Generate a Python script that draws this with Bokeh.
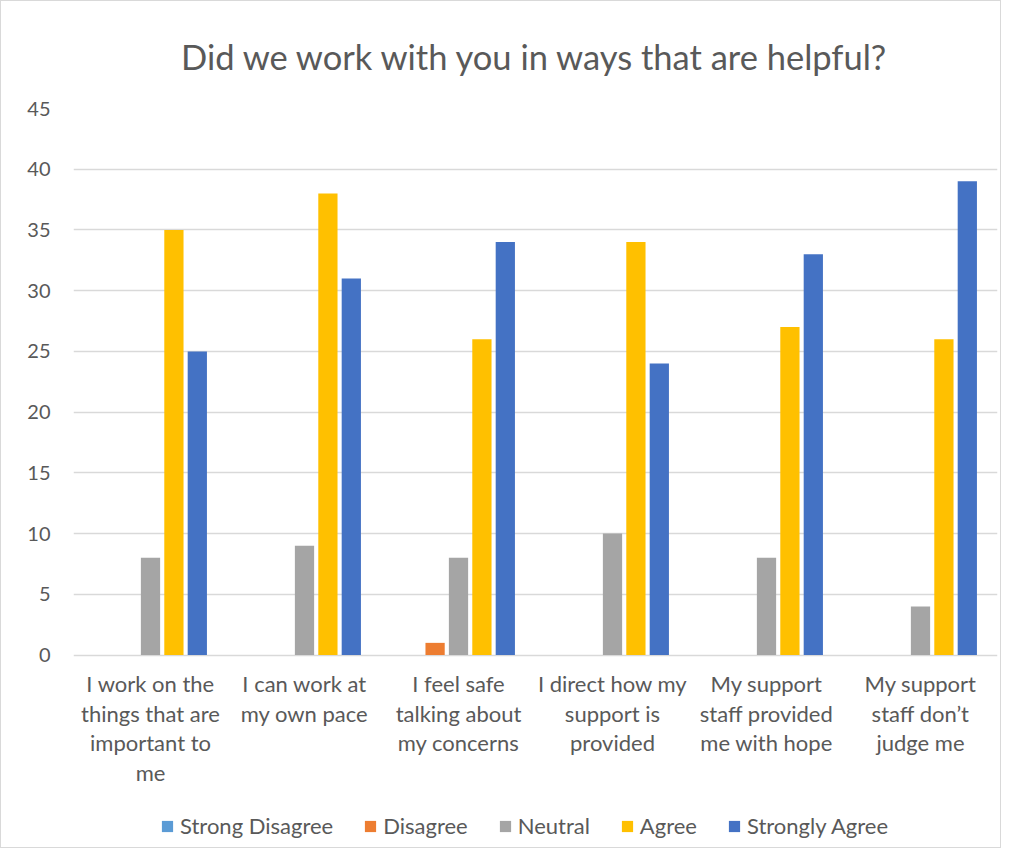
from bokeh.plotting import figure
from bokeh.models import ColumnDataSource, FactorRange, Legend, LegendItem, FixedTicker
from bokeh.transform import dodge
from bokeh.embed import file_html
from bokeh.resources import INLINE

tick_labels = [
    "I work on the\nthings that are\nimportant to\nme",
    "I can work at\nmy own pace",
    "I feel safe\ntalking about\nmy concerns",
    "I direct how my\nsupport is\nprovided",
    "My support\nstaff provided\nme with hope",
    "My support\nstaff don\u2019t\njudge me",
]
series_names = ["Strong Disagree", "Disagree", "Neutral", "Agree", "Strongly Agree"]
strong_disagree = [0, 0, 0, 0, 0, 0]
disagree = [0, 0, 1, 0, 0, 0]
neutral = [8, 9, 8, 10, 8, 4]
agree = [35, 38, 26, 34, 27, 26]
strongly_agree = [25, 31, 34, 24, 33, 39]
y_ticks = [0, 5, 10, 15, 20, 25, 30, 35, 40, 45]
colors = ["#5B9BD5", "#ED7D31", "#A5A5A5", "#FFC000", "#4472C4"]

source = ColumnDataSource(data=dict(
    cat=tick_labels, base=[0] * len(tick_labels),
    s0=strong_disagree, s1=disagree, s2=neutral, s3=agree, s4=strongly_agree,
))

FONT = "Lato"
TXT = "#595959"

# frame spans from the 45 gridline down to the bottom of the chart box;
# the area below 0 holds the category labels and the legend
y_max = y_ticks[-1]
px_per_unit = 546.5 / y_max
frame_h = 739
y_min = y_max - frame_h / px_per_unit

p = figure(
    x_range=FactorRange(*tick_labels), y_range=(y_min, y_max),
    frame_width=924, frame_height=frame_h,
    min_border_left=72, min_border_right=3, min_border_top=101, min_border_bottom=0,
    output_backend="svg", toolbar_location=None,
    title="Did we work with you in ways that are helpful?",
)
p.title.align = "center"
p.title.offset = -18
p.title.text_font = FONT
p.title.text_font_size = "34.5px"
p.title.text_font_style = "normal"
p.title.text_color = TXT
p.title.standoff = 64

step = 0.152
offsets = [-2 * step, -step, 0, step, 2 * step]
renderers = []
for i, (name, col) in enumerate(zip(series_names, colors)):
    r = p.vbar(x=dodge("cat", offsets[i], range=p.x_range), top="s%d" % i, width=0.125,
               source=source, fill_color=col, line_color=None)
    renderers.append(r)

p.outline_line_color = None
p.xgrid.grid_line_color = None
p.ygrid.grid_line_color = "#D9D9D9"
p.ygrid.grid_line_width = 1.3
p.yaxis.ticker = FixedTicker(ticks=y_ticks)
p.yaxis.axis_line_color = None
p.yaxis.major_tick_line_color = None
p.yaxis.minor_tick_line_color = None
p.yaxis.major_label_text_font = FONT
p.yaxis.major_label_text_font_size = "20px"
p.yaxis.major_label_text_color = TXT
p.yaxis.major_label_standoff = 17
p.xaxis.visible = False

p.text(x="cat", y="base", text="cat", source=source,
       y_offset=15, text_align="center", text_baseline="top",
       text_font={"value": FONT}, text_font_size="22px", text_color=TXT,
       text_line_height=1.1)

legend = Legend(
    items=[LegendItem(label=n, renderers=[r]) for n, r in zip(series_names, renderers)],
    orientation="horizontal", location=(87, 8),
    label_text_font=FONT, label_text_font_size="22px", label_text_color=TXT,
    glyph_width=14, glyph_height=14, spacing=30, label_standoff=6,
    border_line_color=None, background_fill_alpha=0, margin=0, padding=0,
)
p.add_layout(legend, "center")
p.styles = {"border": "1px solid #D9D9D9"}

open("out.html", "w").write(file_html(p, INLINE))
